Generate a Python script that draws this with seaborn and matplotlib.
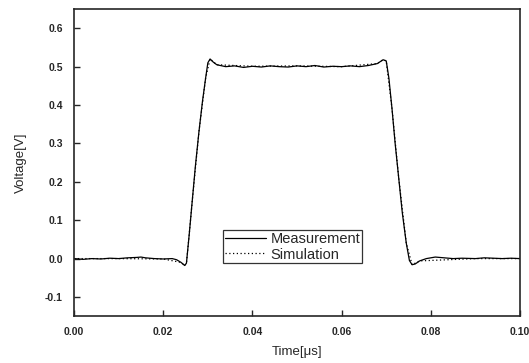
import numpy as np
import pandas as pd
import matplotlib
matplotlib.use("Agg")
import matplotlib.pyplot as plt
import seaborn as sns

meas_t = [0.000, 0.002, 0.004, 0.006, 0.008, 0.010, 0.012, 0.014, 0.015, 0.016,
          0.018, 0.020, 0.022, 0.023, 0.024, 0.0248, 0.0252, 0.0258, 0.0265, 0.0272,
          0.0280, 0.0288, 0.0295, 0.0300, 0.0305, 0.0312, 0.0320, 0.0340, 0.0360, 0.0380,
          0.0400, 0.0420, 0.0440, 0.0460, 0.0480, 0.0500, 0.0520, 0.0540, 0.0560, 0.0580,
          0.0600, 0.0620, 0.0640, 0.0660, 0.0680, 0.0693, 0.0700, 0.0706, 0.0713, 0.0720,
          0.0728, 0.0736, 0.0745, 0.0752, 0.0758, 0.0765, 0.0775, 0.0790, 0.0810, 0.0830,
          0.0850, 0.0870, 0.0900, 0.0920, 0.0940, 0.0960, 0.0980, 0.1000]
meas_v = [0.000, -0.002, 0.000, -0.001, 0.001, 0.000, 0.002, 0.003, 0.004, 0.002,
          0.000, -0.001, 0.000, -0.003, -0.010, -0.018, -0.012, 0.060, 0.150, 0.240,
          0.330, 0.410, 0.470, 0.510, 0.520, 0.512, 0.505, 0.500, 0.502, 0.498,
          0.501, 0.499, 0.502, 0.500, 0.499, 0.502, 0.500, 0.503, 0.499, 0.501,
          0.500, 0.502, 0.500, 0.503, 0.508, 0.518, 0.515, 0.470, 0.390, 0.300,
          0.210, 0.120, 0.040, -0.005, -0.016, -0.014, -0.006, 0.000, 0.004, 0.002,
          0.000, 0.001, 0.000, 0.002, 0.001, 0.000, 0.001, 0.000]

# simulated waveform, hidden under the measurement trace in the picture
sim_t = [0.000, 0.0100, 0.0200, 0.0240, 0.0248, 0.0252, 0.0258, 0.0265, 0.0280,
         0.0295, 0.0305, 0.0320, 0.0400, 0.0500, 0.0600, 0.0680, 0.0693, 0.0700,
         0.0713, 0.0728, 0.0745, 0.0758, 0.0775, 0.0900, 0.1000]
sim_v = [0.000, 0.000, -0.001, -0.010, -0.018, -0.012, 0.060, 0.150, 0.330,
         0.470, 0.520, 0.505, 0.501, 0.502, 0.500, 0.508, 0.518, 0.515,
         0.390, 0.210, 0.040, -0.016, -0.006, 0.000, 0.000]

df = pd.concat([
    pd.DataFrame({"t": meas_t, "v": meas_v, "series": "Measurement"}),
    pd.DataFrame({"t": sim_t, "v": sim_v, "series": "Simulation"}),
])

sns.set_style("ticks")
plt.rcParams["font.family"] = ["Liberation Sans", "DejaVu Sans"]

fig = plt.figure(figsize=(5.29, 3.63), dpi=100)
ax = fig.add_axes([0.140, 0.129, 0.843, 0.846])

sns.lineplot(data=df, x="t", y="v", hue="series", style="series",
             hue_order=["Simulation", "Measurement"],
             style_order=["Measurement", "Simulation"],
             palette=["black", "black"], dashes=[(None, None), (1, 2)],
             linewidth=0.9, sort=False, estimator=None, ax=ax)

ax.set_xlim(0, 0.1)
ax.set_ylim(-0.15, 0.65)
ax.set_xticks([0.00, 0.02, 0.04, 0.06, 0.08, 0.10])
ax.set_xticklabels(["0.00", "0.02", "0.04", "0.06", "0.08", "0.10"])
ax.set_yticks([-0.1, 0.0, 0.1, 0.2, 0.3, 0.4, 0.5, 0.6])
ax.set_yticklabels(["-0.1", "0.0", "0.1", "0.2", "0.3", "0.4", "0.5", "0.6"])
ax.tick_params(direction="in", length=4, width=1, labelsize=7.5, pad=8)
for lab in ax.get_xticklabels() + ax.get_yticklabels():
    lab.set_fontweight("bold")
for s in ax.spines.values():
    s.set_linewidth(1.2)
    s.set_visible(True)

ax.set_xlabel("Time[\u03bcs]", fontsize=9.5, labelpad=6)
ax.set_ylabel("Voltage[V]", fontsize=9.5, labelpad=13)

handles, labels = ax.get_legend_handles_labels()
order = [labels.index("Measurement"), labels.index("Simulation")]
leg = ax.legend([handles[i] for i in order], [labels[i] for i in order],
                loc="lower left", bbox_to_anchor=(0.335, 0.172), frameon=True,
                fancybox=False, edgecolor="black", fontsize=10.5,
                handlelength=2.8, borderpad=0.12, labelspacing=0.1,
                handletextpad=0.3, borderaxespad=0)
leg.get_frame().set_linewidth(0.9)

fig.savefig("out.png", dpi=100)
